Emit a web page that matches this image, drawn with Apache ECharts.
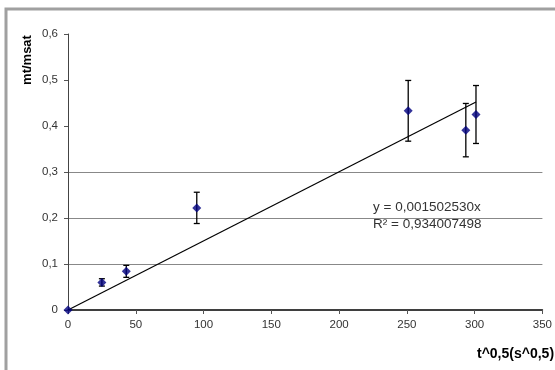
<!DOCTYPE html>
<html><head><meta charset="utf-8">
<script src="https://cdn.jsdelivr.net/npm/echarts@6/dist/echarts.min.js"></script>
<style>html,body{margin:0;padding:0;background:#fff}#c{width:555px;height:370px}</style>
</head><body><div id="c"></div>
<script>
const xValues = [0, 25, 43, 95, 251, 293.5, 301];
const yValues = [0, 0.060, 0.084, 0.222, 0.433, 0.391, 0.425];
const errValues = [0, 0.008, 0.013, 0.034, 0.066, 0.058, 0.063];
const trendX = [0, 301];
const slope = 0.001502530;
const trendLabel = ['y = 0,001502530x', 'R² = 0,934007498'];
const xTicks = [0, 50, 100, 150, 200, 250, 300, 350];
const yTicks = [0, 0.1, 0.2, 0.3, 0.4, 0.5, 0.6];

const pts = xValues.map((x, i) => [x, yValues[i]]);
const errs = xValues.map((x, i) => [x, yValues[i] - errValues[i], yValues[i] + errValues[i]]).filter(d => d[2] > d[1]);
const trend = trendX.map(x => [x, slope * x]);

const chart = echarts.init(document.getElementById('c'), null, {renderer: 'canvas'});
const font = 'Arial, "Liberation Sans", sans-serif';
chart.setOption({
  animation: false,
  backgroundColor: '#fff',
  grid: {left: 68, top: 34, right: 12, bottom: 60},
  xAxis: {
    type: 'value', min: xTicks[0], max: xTicks[xTicks.length - 1], interval: 50,
    axisLine: {lineStyle: {color: '#000', width: 1.5}},
    axisTick: {show: true, length: 4, lineStyle: {color: '#555'}},
    axisLabel: {color: '#333', fontFamily: font, fontSize: 11.5, margin: 9},
    splitLine: {show: false}
  },
  yAxis: {
    type: 'value', min: yTicks[0], max: yTicks[yTicks.length - 1], interval: 0.1,
    axisLine: {show: true, lineStyle: {color: '#444', width: 1}},
    axisTick: {show: true, length: 4, lineStyle: {color: '#555'}},
    axisLabel: {color: '#333', fontFamily: font, fontSize: 11.5, margin: 10,
      formatter: v => String(Math.round(v * 10) / 10).replace('.', ',')},
    splitLine: {show: true, lineStyle: {width: 1,
      color: ['rgba(0,0,0,0)', '#888', '#888', '#888', 'rgba(0,0,0,0)', 'rgba(0,0,0,0)', 'rgba(0,0,0,0)']}}
  },
  graphic: [
    {type: 'rect', shape: {x: 6, y: 9, width: 700, height: 500}, style: {fill: 'none', stroke: '#a0a0a0', lineWidth: 3}, z: 100},
    {type: 'text', x: 27, y: 60, rotation: Math.PI / 2, style: {text: 'mt/msat', fill: '#000', font: 'bold 13px ' + font, textAlign: 'center', textVerticalAlign: 'middle'}},
    {type: 'text', x: 477, y: 354, style: {text: 't^0,5(s^0,5)', fill: '#000', font: 'bold 14px ' + font, textAlign: 'left', textVerticalAlign: 'middle'}},
    {type: 'text', x: 373, y: 207.5, style: {text: trendLabel[0], fill: '#333', font: '13.5px ' + font, textVerticalAlign: 'middle'}},
    {type: 'text', x: 373, y: 224, style: {text: trendLabel[1], fill: '#333', font: '13.5px ' + font, textVerticalAlign: 'middle'}}
  ],
  series: [
    {type: 'line', data: trend, symbol: 'none', lineStyle: {color: '#000', width: 1.2}, z: 3},
    {type: 'custom', data: errs, z: 4,
      renderItem: (params, api) => {
        const x = api.value(0);
        const lo = api.coord([x, api.value(1)]);
        const hi = api.coord([x, api.value(2)]);
        const w = 3;
        const st = {stroke: '#000', lineWidth: 1.3};
        return {type: 'group', children: [
          {type: 'line', shape: {x1: lo[0], y1: lo[1], x2: hi[0], y2: hi[1]}, style: st},
          {type: 'line', shape: {x1: lo[0] - w, y1: lo[1], x2: lo[0] + w, y2: lo[1]}, style: st},
          {type: 'line', shape: {x1: hi[0] - w, y1: hi[1], x2: hi[0] + w, y2: hi[1]}, style: st}
        ]};
      }},
    {type: 'scatter', data: pts, symbol: 'diamond', symbolSize: 9, itemStyle: {color: '#000080'}, z: 5}
  ]
});
</script></body></html>
